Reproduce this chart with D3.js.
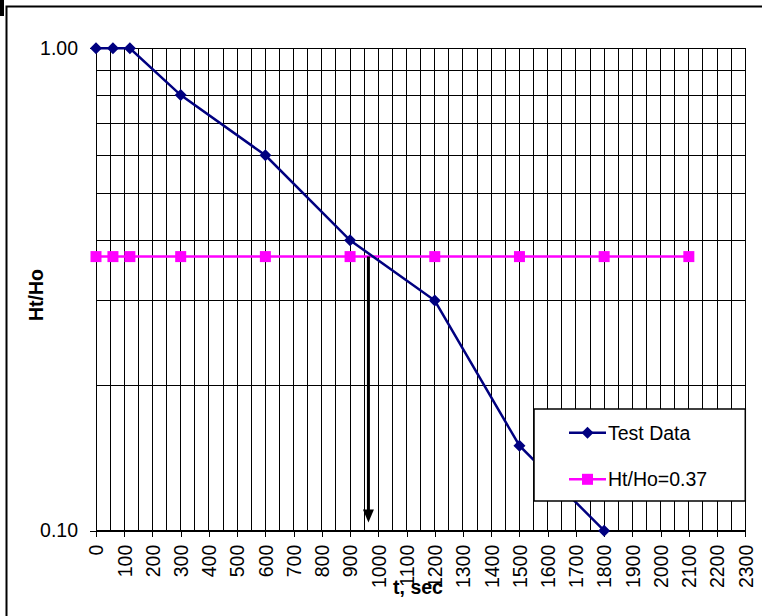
<!DOCTYPE html>
<html>
<head>
<meta charset="utf-8">
<script src="https://cdn.jsdelivr.net/npm/d3@7"></script>
<style>
  html, body { margin: 0; padding: 0; background: #fff; }
  svg { display: block; font-family: "Liberation Sans", Arial, sans-serif; }
</style>
</head>
<body>
<svg id="chart" width="762" height="616"></svg>
<script>
// Falling-head test: normalised head vs elapsed time
const testTimes  = [0, 60, 120, 300, 600, 900, 1200, 1500, 1800];
const testRatios = [1.0, 1.0, 1.0, 0.8, 0.6, 0.4, 0.3, 0.15, 0.10];
const refTimes   = [0, 60, 120, 300, 600, 900, 1200, 1500, 1800, 2100];
const refRatio   = 0.37;
const seriesNames = ["Test Data", "Ht/Ho=0.37"];
const xTickValues = d3.range(0, 2301, 100);
const yTickValues = [0.1, 1.0];
const arrowTime = 965;
const arrowEnd = 0.104;

const svg = d3.select("#chart");
const plotLeft = 96, plotRight = 745.3, plotTop = 48.3, plotBottom = 530.7;

const x = d3.scaleLinear().domain([0, 2300]).range([plotLeft, plotRight]);
const y = d3.scaleLog().domain([0.1, 1]).range([plotBottom, plotTop]);

// outer frame
svg.append("rect").attr("x", 0).attr("y", 0).attr("width", 4).attr("height", 16).attr("fill", "#000");
svg.append("path").attr("d", "M6.5,616V6.5H762").attr("fill", "none").attr("stroke", "#000").attr("stroke-width", 2);

// grid
const grid = svg.append("g").attr("stroke", "#000").attr("stroke-width", 1).attr("shape-rendering", "crispEdges");
grid.selectAll("line.v").data(d3.range(0, 2301, 50)).join("line").attr("class", "v")
  .attr("x1", d => x(d)).attr("x2", d => x(d)).attr("y1", plotTop).attr("y2", plotBottom);
grid.selectAll("line.h").data(d3.range(1, 11).map(d => d / 10)).join("line").attr("class", "h")
  .attr("x1", plotLeft).attr("x2", plotRight).attr("y1", d => y(d)).attr("y2", d => y(d));

// axes
const fontSize = "19.5px";
const yAxis = svg.append("g").attr("transform", `translate(${plotLeft},0)`)
  .call(d3.axisLeft(y).tickValues(yTickValues).tickFormat(d3.format(".2f")).tickSize(6).tickSizeOuter(0).tickPadding(12));
yAxis.selectAll("text").attr("font-size", fontSize).attr("fill", "#000").attr("font-family", "Liberation Sans, Arial, sans-serif");
yAxis.selectAll("line,path").attr("stroke", "#000").attr("shape-rendering", "crispEdges");

const xAxis = svg.append("g").attr("transform", `translate(0,${plotBottom})`)
  .call(d3.axisBottom(x).tickValues(xTickValues).tickFormat(d3.format("d")).tickSize(6).tickSizeOuter(0));
xAxis.selectAll("text")
  .attr("transform", "rotate(-90)")
  .attr("x", -14).attr("y", 0).attr("dy", "0.35em")
  .style("text-anchor", "end")
  .attr("font-size", fontSize).attr("fill", "#000").attr("font-family", "Liberation Sans, Arial, sans-serif");
xAxis.selectAll("line,path").attr("stroke", "#000").attr("shape-rendering", "crispEdges");

// axis titles
svg.append("text").attr("transform", "translate(43,295) rotate(-90)")
  .attr("text-anchor", "middle").attr("font-weight", "bold").attr("font-size", "19.5px").text("Ht/Ho");
svg.append("text").attr("x", 418).attr("y", 594)
  .attr("text-anchor", "middle").attr("font-weight", "bold").attr("font-size", "19.5px").text("t, sec");

// reference line Ht/Ho = 0.37
const magenta = "#ff00ff", navy = "#000080";
const refData = refTimes.map(t => [t, refRatio]);
const line = d3.line().x(d => x(d[0])).y(d => y(d[1]));
svg.append("path").datum(refData).attr("d", line)
  .attr("fill", "none").attr("stroke", magenta).attr("stroke-width", 2.5);
svg.selectAll("rect.ref").data(refData).join("rect").attr("class", "ref")
  .attr("x", d => x(d[0]) - 5.5).attr("y", d => y(d[1]) - 5.5)
  .attr("width", 11).attr("height", 11).attr("fill", magenta);

// test data
const testData = testTimes.map((t, i) => [t, testRatios[i]]);
svg.append("path").datum(testData).attr("d", line)
  .attr("fill", "none").attr("stroke", navy).attr("stroke-width", 2.5);
const diamond = (cx, cy, r) => `M${cx},${cy - r}L${cx + r},${cy}L${cx},${cy + r}L${cx - r},${cy}Z`;
svg.selectAll("path.test").data(testData).join("path").attr("class", "test")
  .attr("d", d => diamond(x(d[0]), y(d[1]), 6)).attr("fill", navy);

// arrow marking t at Ht/Ho = 0.37
const ax = x(arrowTime), ayTop = y(refRatio), ayTip = y(arrowEnd);
svg.append("line").attr("x1", ax).attr("x2", ax).attr("y1", ayTop).attr("y2", ayTip - 10)
  .attr("stroke", "#000").attr("stroke-width", 3);
svg.append("path").attr("d", `M${ax},${ayTip}L${ax - 5.5},${ayTip - 13}L${ax + 5.5},${ayTip - 13}Z`).attr("fill", "#000");

// legend
const lg = svg.append("g");
lg.append("rect").attr("x", 534).attr("y", 409).attr("width", 211.3).attr("height", 92)
  .attr("fill", "#fff").attr("stroke", "#000").attr("stroke-width", 1.5);
const legendRows = [
  { name: seriesNames[0], color: navy, cy: 432.7, mark: "diamond" },
  { name: seriesNames[1], color: magenta, cy: 479.3, mark: "square" }
];
legendRows.forEach(r => {
  lg.append("line").attr("x1", 569).attr("x2", 606).attr("y1", r.cy).attr("y2", r.cy)
    .attr("stroke", r.color).attr("stroke-width", 2.5);
  if (r.mark === "diamond") {
    lg.append("path").attr("d", diamond(587.5, r.cy, 6)).attr("fill", r.color);
  } else {
    lg.append("rect").attr("x", 582).attr("y", r.cy - 5.5).attr("width", 11).attr("height", 11).attr("fill", r.color);
  }
  lg.append("text").attr("x", 608).attr("y", r.cy + 6.8).attr("font-size", "19.5px").attr("fill", "#000").text(r.name);
});
</script>
</body>
</html>
